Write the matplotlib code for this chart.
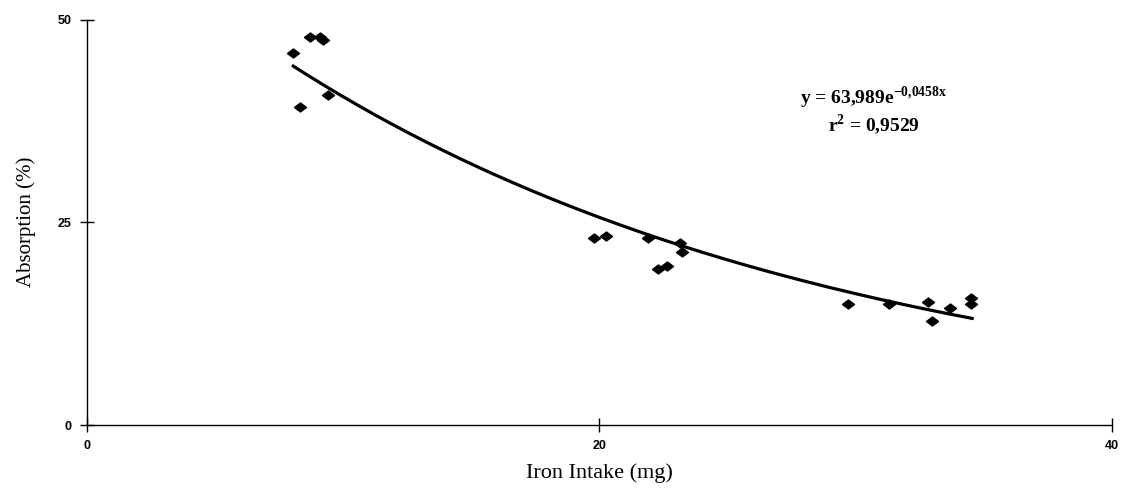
import numpy as np
import matplotlib
matplotlib.use("Agg")
import matplotlib.pyplot as plt

# Data
iron_intake = [8.05, 8.32, 8.71, 9.10, 9.22, 9.39,
               19.77, 20.26, 21.89, 22.28, 22.62, 23.16, 23.23,
               29.70, 31.30, 32.82, 32.99, 33.67, 34.49, 34.49]
absorption = [45.9, 39.25, 47.8, 47.8, 47.5, 40.7,
              23.1, 23.3, 23.1, 19.3, 19.6, 22.4, 21.3,
              14.96, 14.92, 15.13, 12.8, 14.46, 15.7, 14.9]

# exponential trendline y = a * exp(b * x)
fit_a = 63.989
fit_b = -0.0458
fit_range = [8.05, 34.55]

x_ticks = [0, 20, 40]
y_ticks = [0, 25, 50]

plt.rcParams["mathtext.fontset"] = "custom"
plt.rcParams["mathtext.rm"] = "Liberation Serif:bold"
plt.rcParams["mathtext.bf"] = "Liberation Serif:bold"

fig = plt.figure(figsize=(11.23, 4.88), dpi=100)
ax = fig.add_axes([0.0775, 0.129, 0.9125, 0.831])

diamond = [(-1, 0), (0, 0.75), (1, 0), (0, -0.75), (-1, 0)]
ax.scatter(iron_intake, absorption, marker=diamond, s=75, color="black", zorder=3)

xf = np.linspace(fit_range[0], fit_range[1], 200)
ax.plot(xf, fit_a * np.exp(fit_b * xf), color="black", lw=2.3)

ax.set_xlim(0, 40)
ax.set_ylim(0, 50)
ax.set_xticks(x_ticks)
ax.set_yticks(y_ticks)
ax.spines["top"].set_visible(False)
ax.spines["right"].set_visible(False)
for s in ["left", "bottom"]:
    ax.spines[s].set_linewidth(1.0)
ax.tick_params(direction="inout", length=10, width=1.0, labelsize=9, pad=6)
for lab in ax.get_xticklabels() + ax.get_yticklabels():
    lab.set_family("Liberation Sans")
    lab.set_fontweight("bold")

ax.set_xlabel("Iron Intake (mg)", family="Liberation Serif", fontsize=16, labelpad=8)
ax.set_ylabel("Absorption (%)", family="Liberation Serif", fontsize=15, labelpad=16)

ax.text(30.7, 40.3, r"y = 63,989e$^{\mathbf{-0{,}0458x}}$", family="Liberation Serif",
        fontweight="bold", fontsize=14, ha="center", va="center")
ax.text(30.7, 37.0, r"r$^{\mathbf{2}}$ = 0,9529", family="Liberation Serif",
        fontweight="bold", fontsize=14, ha="center", va="center")

fig.savefig("out.png", dpi=100)
